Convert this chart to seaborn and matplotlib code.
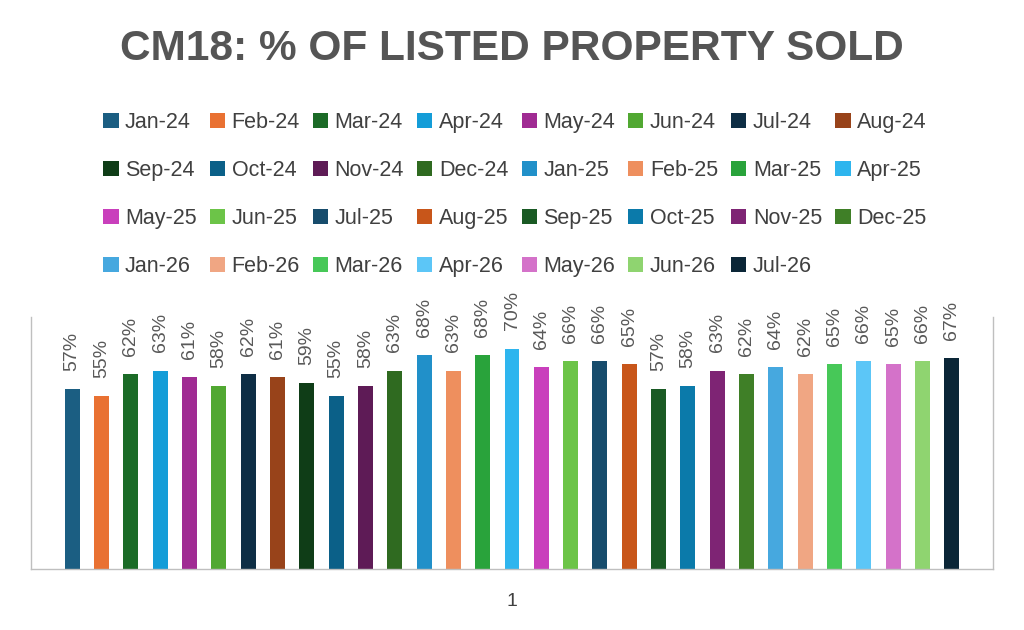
import matplotlib
matplotlib.use("Agg")
import matplotlib.pyplot as plt
import seaborn as sns
import pandas as pd

months = ["Jan-24", "Feb-24", "Mar-24", "Apr-24", "May-24", "Jun-24", "Jul-24", "Aug-24",
          "Sep-24", "Oct-24", "Nov-24", "Dec-24", "Jan-25", "Feb-25", "Mar-25", "Apr-25",
          "May-25", "Jun-25", "Jul-25", "Aug-25", "Sep-25", "Oct-25", "Nov-25", "Dec-25",
          "Jan-26", "Feb-26", "Mar-26", "Apr-26", "May-26", "Jun-26", "Jul-26"]
values = [57, 55, 62, 63, 61, 58, 62, 61,
          59, 55, 58, 63, 68, 63, 68, 70,
          64, 66, 66, 65, 57, 58, 63, 62,
          64, 62, 65, 66, 65, 66, 67]
colors = ["#1B5E82", "#E97132", "#1B6B27", "#149DD8", "#A02B93", "#51A832", "#0E2E45", "#98431A",
          "#0F3D17", "#0B6088", "#5E1B56", "#2F6A20", "#2190C9", "#EE8F5E", "#29A33B", "#2EB5EE",
          "#C93FBC", "#6CC448", "#174C6C", "#C8561A", "#1A5A24", "#0B7AAA", "#7E2474", "#3F7F27",
          "#46A8DF", "#F0A683", "#47C858", "#5CC6F7", "#D472C9", "#8FD470", "#0B2637"]
category = ["1"] * len(months)

df = pd.DataFrame({"cat": category, "month": months, "value": values})

sns.set_theme(style="white")
plt.rcParams["font.family"] = ["Liberation Sans", "DejaVu Sans"]

fig = plt.figure(figsize=(10.24, 6.30), dpi=100)
ax = fig.add_axes([31 / 1024, 61 / 630, 962 / 1024, 252 / 630])

sns.barplot(data=df, x="cat", y="value", hue="month", hue_order=months,
            palette=colors, width=0.945, gap=0.49, ax=ax, linewidth=0,
            saturation=1, legend=True, errorbar=None)

ax.set_ylim(0, 80)
ax.set_xlim(-0.5, 0.5)
ax.set_xlabel("")
ax.set_ylabel("")
ax.set_yticks([])
ax.tick_params(axis="x", length=0, pad=17, labelsize=14, labelcolor="#404040")
for side in ["left", "right", "bottom"]:
    ax.spines[side].set_visible(True)
    ax.spines[side].set_color("#BFBFBF")
    ax.spines[side].set_linewidth(1.0)
ax.spines["top"].set_visible(False)

for cont in ax.containers:
    ax.bar_label(cont, fmt="{:.0f}%", rotation=90, padding=13,
                 fontsize=14, color="#595959")

handles, labels = ax.get_legend_handles_labels()
ax.legend_.remove()
ncol = 8
order = [c + ncol * r for c in range(ncol) for r in range(4) if c + ncol * r < len(labels)]
fig.legend([handles[i] for i in order], [labels[i] for i in order], ncol=ncol,
           loc="center", bbox_to_anchor=(0.503, 1 - 194.5 / 630),
           frameon=False, fontsize=15.5, labelcolor="#404040",
           handlelength=0.7, handleheight=0.7, handletextpad=0.3,
           columnspacing=0.62, labelspacing=1.26, borderpad=0)

fig.text(0.5, 1 - 49 / 630, "CM18: % OF LISTED PROPERTY SOLD", ha="center", va="center",
         fontsize=30.5, fontweight="bold", color="#555555")

fig.savefig("out.png", dpi=100, facecolor="white")
